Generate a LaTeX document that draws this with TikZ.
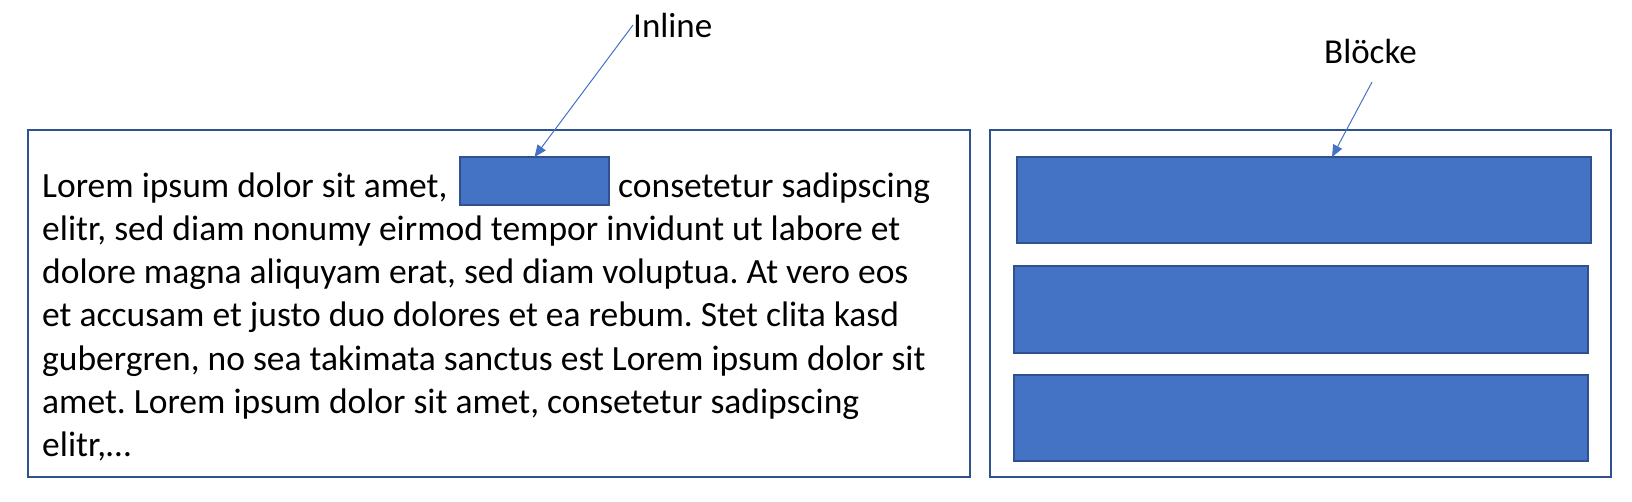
\documentclass[tikz,border=0pt]{standalone}
\usepackage{fontspec}
\setmainfont{Carlito}
\frenchspacing
\usetikzlibrary{arrows.meta}
\definecolor{bordblue}{HTML}{2F528F}
\definecolor{fillblue}{HTML}{4472C4}
\begin{document}
\begin{tikzpicture}[x=1pt,y=-1pt,
  frame/.style={draw=bordblue,line width=2pt,inner sep=0pt,outer sep=0pt},
  blk/.style={draw=bordblue,fill=fillblue,line width=2pt,inner sep=0pt,outer sep=0pt},
  txt/.style={inner sep=0pt,anchor=base west,font=\fontsize{35.5pt}{43pt}\selectfont},
  lab/.style={inner sep=0pt,anchor=base west,font=\fontsize{35pt}{42pt}\selectfont},
  arr/.style={draw=fillblue,line width=1pt,-{Triangle[length=12pt,width=10pt]}}]
\useasboundingbox (0,0) rectangle (1632,501);
% frames
\node[frame,minimum width=942pt,minimum height=347pt] (left) at (499,303.5) {};
\node[frame,minimum width=621pt,minimum height=347pt] (right) at (1300.5,303.5) {};
% blocks
\node[blk,minimum width=574pt,minimum height=86pt] (b1) at (1304,200) {};
\node[blk,minimum width=574pt,minimum height=87pt] (b2) at (1301,309.5) {};
\node[blk,minimum width=574pt,minimum height=86pt] (b3) at (1301,418) {};
% inline block
\node[blk,minimum width=149pt,minimum height=48pt] (inl) at (534.5,181) {};
% text
\node[txt] (l1a) at (42,197) {Lorem ipsum dolor sit amet,};
\node[txt] (l1b) at (618,197) {consetetur sadipscing};
\node[txt] (l2) at (42,240.3) {elitr, sed diam nonumy eirmod tempor invidunt ut labore et};
\node[txt] (l3) at (42,283.6) {dolore magna aliquyam erat, sed diam voluptua. At vero eos};
\node[txt] (l4) at (42,326.9) {et accusam et justo duo dolores et ea rebum. Stet clita kasd};
\node[txt] (l5) at (42,370.2) {gubergren, no sea takimata sanctus est Lorem ipsum dolor sit};
\node[txt] (l6) at (42,413.5) {amet. Lorem ipsum dolor sit amet, consetetur sadipscing};
\node[txt] (l7) at (42,456.8) {elitr,…};
% labels
\node[lab] (inlab) at (633,37) {Inline};
\node[lab] (blab) at (1324,63) {Blöcke};
\coordinate (bstart) at (1372,82);
% arrows
\draw[arr] (inlab.west) -- (inl.north);
\draw[arr] (bstart) -- ([xshift=28pt]b1.north);
\end{tikzpicture}
\end{document}
